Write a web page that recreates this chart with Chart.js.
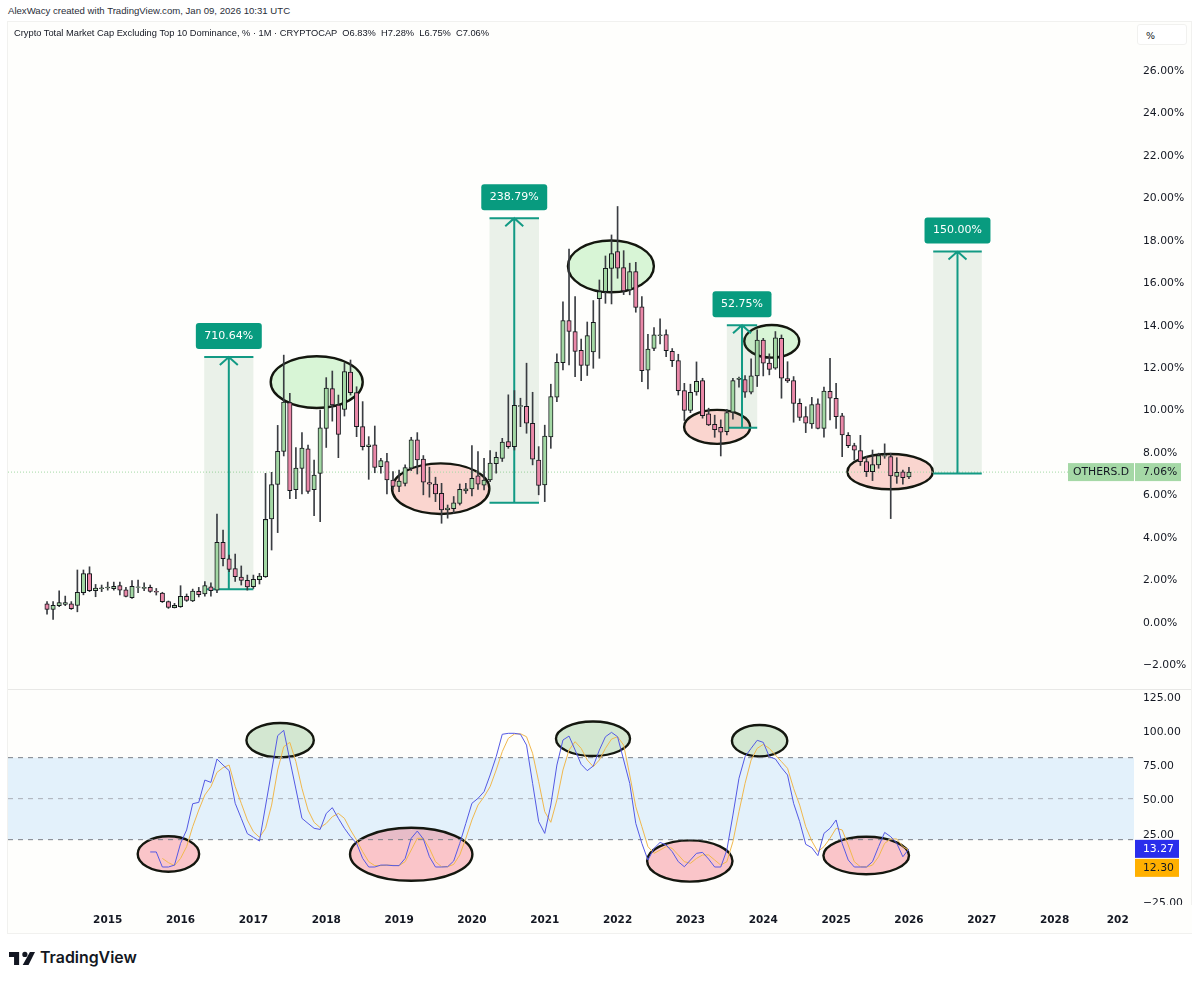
<!DOCTYPE html>
<html>
<head>
<meta charset="utf-8">
<title>OTHERS.D</title>
<script src="https://cdn.jsdelivr.net/npm/chart.js@4/dist/chart.umd.min.js"></script>
<style>
  html, body { margin: 0; padding: 0; background: #fff; }
  body { position: relative; width: 1200px; height: 982px; overflow: hidden; font-family: "DejaVu Sans", sans-serif; color: #131722; }
  #panel { position: absolute; left: 8px; top: 22px; width: 1183px; height: 911px; background: #fefefc; outline: 1px solid #f1f1ef; }
  canvas { position: absolute; left: 8px; }
  #priceChart { top: 22px; }
  #stochChart { top: 690px; }
  #sep { position: absolute; left: 8px; top: 689px; width: 1183px; height: 1px; background: #e8e8e6; }
  .txt { position: absolute; white-space: pre; }
  #credit { left: 8px; top: 5px; font-family: "Liberation Sans", sans-serif; font-size: 9.6px; line-height: 12px; color: #2a2e39; }
  #title { left: 14px; top: 27px; font-family: "Liberation Sans", sans-serif; font-size: 9.3px; line-height: 12px; color: #131722; }
  #unit { left: 1137px; top: 24px; width: 50px; height: 21px; line-height: 21px; text-indent: 8px; font-size: 9.5px; background: #fff; border: 1px solid #f1f1ef; border-radius: 3px; box-sizing: border-box; }
  #brand { left: 40px; top: 947px; font-family: Inter, sans-serif; font-weight: 600; font-size: 15.9px; line-height: 22px; color: #131722; }
  #logo { position: absolute; left: 9px; top: 951px; }
</style>
</head>
<body>
<div id="panel"></div>
<canvas id="priceChart" width="1184" height="667"></canvas>
<div id="sep"></div>
<canvas id="stochChart" width="1184" height="243"></canvas>
<div class="txt" id="credit">AlexWacy created with TradingView.com, Jan 09, 2026 10:31 UTC</div>
<div class="txt" id="title">Crypto Total Market Cap Excluding Top 10 Dominance, % · 1M · CRYPTOCAP  O6.83%  H7.28%  L6.75%  C7.06%</div>
<div class="txt" id="unit">%</div>
<svg id="logo" width="26" height="15" viewBox="0 0 36 20"><path fill="#131722" d="M0 1h14v18H7V8H0zM29 1h7l-9 18h-8zM22 8a3.6 3.6 0 1 0 0-7.2A3.6 3.6 0 0 0 22 8z"/></svg>
<div class="txt" id="brand">TradingView</div>

<script>
// monthly candles, index 0 = Mar 2014, last = Jan 2026
const opens = [.85,.59,.77,.83,.85,.78,1.38,2.28,1.47,1.57,
  1.60,1.57,1.71,1.52,1.14,1.63,1.58,1.63,1.44,1.36,
  .96,.67,.72,1.21,.99,1.44,1.32,1.66,1.50,3.75,
  2.98,2.51,2.12,1.96,1.66,1.99,2.13,4.86,6.48,8.04,
  10.33,6.23,7.23,8.16,6.23,7.00,9.12,10.99,10.22,10.01,
  11.77,10.80,9.20,8.26,8.35,7.32,7.56,6.68,6.38,6.53,
  7.24,8.58,7.67,6.57,6.50,6.06,5.28,5.34,5.58,6.17,
  6.27,6.88,6.44,6.69,7.46,7.71,8.50,8.26,10.15,10.16,
  9.36,7.63,6.46,8.72,10.59,12.22,14.20,13.68,12.80,12.09,
  12.72,15.23,15.56,16.65,17.45,16.69,15.64,16.50,14.84,11.86,
  12.89,13.49,13.54,12.75,12.31,10.90,9.96,10.84,11.37,9.80,
  9.31,9.17,8.97,9.88,11.43,11.42,10.82,11.59,13.28,12.19,
  11.95,13.36,11.46,11.37,10.30,9.67,9.33,10.27,9.12,10.87,
  10.54,9.71,8.79,8.31,8.07,7.55,7.08,7.40,7.81,7.79,
  6.86,7.07,6.83];
const highs = [.96,.96,1.47,1.22,.96,2.45,2.45,2.60,1.77,1.74,
  1.88,1.88,1.88,1.63,1.95,1.98,1.85,1.74,1.58,1.40,
  .99,.88,1.71,1.32,1.55,1.63,1.90,1.85,5.08,4.33,
  3.15,3.20,2.64,2.21,2.21,2.29,7.00,7.05,9.26,12.57,
  10.77,8.21,8.92,8.33,7.63,9.98,11.51,11.82,10.69,12.18,
  12.34,11.08,10.38,8.73,9.23,7.71,7.95,7.08,7.16,7.40,
  8.70,8.92,7.84,7.29,6.82,6.53,5.51,5.91,6.50,6.53,
  8.31,8.03,7.71,8.07,8.00,8.65,10.70,10.90,10.54,12.19,
  10.82,8.26,9.27,11.20,12.63,15.08,17.56,15.33,13.32,14.13,
  15.14,16.11,17.24,18.23,19.57,17.49,16.90,16.94,15.33,13.55,
  13.87,14.28,13.76,12.88,12.61,11.24,11.20,12.25,11.48,10.07,
  9.74,9.52,10.02,11.48,11.53,11.61,12.39,13.76,13.36,12.63,
  13.68,13.52,12.26,11.56,10.51,10.14,10.58,10.51,11.06,12.42,
  11.24,9.83,8.92,8.42,8.79,7.79,8.10,7.95,8.39,7.95,
  7.74,7.16,7.28];
const lows = [.37,.12,.72,.77,.59,.48,1.28,1.43,1.19,1.43,
  1.50,1.50,1.27,1.18,1.11,1.38,1.47,1.40,1.27,.92,
  .64,.66,.69,.97,.96,1.18,1.22,1.22,1.38,2.64,
  2.37,1.91,1.74,1.50,1.58,1.79,2.10,3.39,4.21,7.82,
  5.81,5.81,6.03,6.06,5.01,4.72,8.22,9.46,7.74,9.70,
  10.69,8.73,8.10,6.72,7.03,7.01,6.03,6.25,6.14,6.41,
  7.13,6.97,5.99,5.88,5.67,4.65,4.89,5.12,5.51,6.06,
  5.94,6.25,6.22,6.61,7.01,7.56,8.18,8.10,9.20,8.89,
  7.40,5.99,5.67,8.18,10.38,11.87,12.11,11.56,11.37,11.61,
  11.95,12.42,15.01,14.98,16.19,15.42,15.41,14.59,11.32,10.98,
  12.78,13.10,12.50,12.03,10.69,9.49,9.86,10.68,9.60,9.25,
  8.70,7.82,8.81,9.55,11.06,10.58,10.74,11.09,11.59,11.64,
  11.90,10.54,11.28,9.41,9.49,8.92,9.12,9.09,8.70,9.52,
  9.12,7.79,8.21,7.63,7.37,6.85,6.66,7.24,7.71,4.87,
  6.53,6.49,6.75];
const closes = [.59,.78,.92,.92,.63,1.40,2.28,1.47,1.60,1.61,
  1.65,1.68,1.50,1.21,1.68,1.66,1.63,1.44,1.40,.96,
  .69,.78,1.21,1.02,1.46,1.29,1.71,1.47,3.75,2.98,
  2.48,2.13,1.96,1.65,2.01,2.16,4.83,6.47,8.04,10.36,
  6.18,7.25,8.19,6.15,6.92,9.14,11.02,10.22,8.84,11.80,
  10.80,9.20,8.26,8.35,7.28,7.60,6.69,6.39,6.64,7.27,
  8.58,7.63,6.58,6.49,6.03,5.28,5.37,5.61,6.25,6.27,
  6.77,6.49,6.69,7.48,7.76,8.47,8.26,10.21,10.19,9.36,
  7.67,6.43,8.76,10.62,12.23,14.20,13.69,12.75,12.09,13.49,
  14.12,15.56,16.66,17.35,16.66,15.59,16.50,14.82,11.84,12.86,
  13.52,13.52,12.78,12.31,10.90,9.97,10.82,11.34,9.72,9.28,
  9.06,8.94,9.86,11.37,11.48,10.82,11.59,13.28,12.19,11.90,
  13.39,11.48,11.35,10.30,9.63,9.36,10.24,9.12,10.88,10.54,
  9.67,8.81,8.31,8.09,7.55,7.08,7.41,7.84,7.84,6.88,
  7.05,6.80,7.06];

// stoch rsi, %K starts at candle 17, %D at candle 19
const stochK = [11.0,11.0,0,0,1.4,17.3,27.1,46.3,47.3,63.6,61.9,79.0,74.6,70.5,46.6,35.6,24.4,21.7,19.0,44.6,
  70.2,96.1,100,78.3,57.1,35.6,31.9,28.3,27.5,39.2,43.4,35.6,28.3,22.2,17.3,6.3,0,0,1.4,1.4,
  1.0,1.0,6.3,21.0,26.3,20.5,7.5,0,0,0.2,4.4,17.3,31.9,46.6,50.2,55.1,67.3,80.7,97.1,97.8,
  97.8,97.1,89.2,61.2,33.2,24.6,45.3,74.6,92.9,95.8,85.6,75.1,70.5,73.9,85.6,95.3,98.5,95.3,78.3,61.2,
  31.9,17.3,5.1,13.6,18.0,16.1,11.2,3.9,0.2,5.1,10.0,10.7,5.8,0,0,12.4,38.0,64.9,80.7,86.8,
  92.7,91.2,80.7,79.0,72.7,67.3,46.6,33.2,16.6,14.1,8.3,24.6,28.3,34.4,17.3,5.1,0,0,0,3.9,
  14.9,25.3,22.2,17.3,7.5,13.27];
const stochD = [6.3,3.2,1.0,6.3,14.9,29.5,41.7,52.7,58.8,69.2,72.7,74.6,58.8,46.6,34.4,25.8,21.7,28.3,45.3,71.0,
  88.0,91.2,77.1,57.5,41.7,32.7,28.8,31.9,36.8,39.2,35.6,27.1,19.7,11.2,3.9,1.0,1.0,1.4,1.2,1.0,
  3.9,12.4,21.0,21.0,13.6,3.9,0.2,0.2,1.9,8.8,21.0,34.4,45.3,51.4,58.8,71.0,84.4,94.1,97.3,97.5,
  95.3,83.2,62.4,40.5,32.7,49.0,71.0,85.6,91.7,86.8,78.3,73.4,78.3,86.8,93.6,95.3,89.2,67.3,44.1,29.5,
  14.9,10.0,12.4,14.9,13.6,8.8,3.9,2.7,6.3,8.8,8.8,5.1,1.4,3.9,18.5,40.5,61.2,78.3,86.8,89.7,
  86.8,81.9,77.1,72.2,57.5,45.3,29.5,19.0,11.2,14.9,21.0,28.3,27.1,16.1,3.9,0.2,0,1.4,7.5,17.3,
  20.5,20.5,14.9,12.30];
const stochKStart = 17;
const stochDStart = 19;

const priceTicks = [26,24,22,20,18,16,14,12,10,8,6,4,2,0,-2];
const stochTicks = [125,100,75,50,25,-25];
const yearLabels = ["2015","2016","2017","2018","2019","2020","2021","2022","2023","2024","2025","2026","2027","2028","202"];
const yearPositions = [10,22,34,46,58,70,82,94,106,118,130,142,154,166,176.4];

const lastPrice = 7.06;

// drawn on the chart in month / value units: centre x, centre y, radius x, radius y
const priceCircles = [
  { kind: "green", at: [44.43, 11.30, 7.58, 1.22] },
  { kind: "pink", at: [64.86, 6.28, 8.02, 1.19] },
  { kind: "green", at: [92.90, 16.75, 7.08, 1.22] },
  { kind: "pink", at: [110.40, 9.19, 5.44, 0.80] },
  { kind: "green", at: [119.40, 13.22, 4.53, 0.77] },
  { kind: "pink", at: [138.90, 7.08, 7.03, 0.83] }
];
const stochCircles = [
  { kind: "pink", at: [20.0, 9.5, 5.06, 13.0] },
  { kind: "green", at: [38.4, 92.8, 5.55, 12.6] },
  { kind: "pink", at: [60.0, 9.3, 10.08, 19.4] },
  { kind: "green", at: [89.95, 93.8, 6.1, 12.6] },
  { kind: "pink", at: [105.9, 4.4, 7.03, 15.1] },
  { kind: "green", at: [117.4, 92.4, 4.56, 11.5] },
  { kind: "pink", at: [134.96, 8.4, 7.05, 13.7] }
];
const moves = [
  { from: 25.9, to: 34.0, base: 1.54, top: 12.48, label: "710.64%" },
  { from: 72.9, to: 81.05, base: 5.62, top: 19.02, label: "238.79%" },
  { from: 112, to: 117, base: 9.15, top: 13.98, label: "52.75%" },
  { from: 146, to: 154, base: 7.0, top: 17.45, label: "150.00%" }
];

const FONT = '"DejaVu Sans", sans-serif';
const TEAL = "#129a84";
const circleFill = {
  price: { green: "rgba(110,220,105,0.26)", pink: "rgba(240,90,70,0.25)" },
  stoch: { green: "rgba(60,150,60,0.22)", pink: "rgba(240,50,70,0.28)" }
};

const months = opens.map((v, i) => i);
const isUp = i => closes[i] >= opens[i];

function drawCircles(chart, list, fills) {
  const { ctx, scales: { x, y } } = chart;
  list.forEach(c => {
    const [cx, cy, rx, ry] = c.at;
    const px = x.getPixelForValue(cx);
    const py = y.getPixelForValue(cy);
    ctx.beginPath();
    ctx.ellipse(px, py, x.getPixelForValue(cx + rx) - px, py - y.getPixelForValue(cy + ry), 0, 0, Math.PI * 2);
    ctx.fillStyle = fills[c.kind];
    ctx.fill();
    ctx.lineWidth = 2.4;
    ctx.strokeStyle = "#14170f";
    ctx.stroke();
  });
}

const priceOverlay = {
  id: "priceOverlay",
  beforeDatasetsDraw(chart) {
    const { ctx, chartArea, scales: { x, y } } = chart;
    ctx.save();
    drawCircles(chart, priceCircles, circleFill.price);

    // last price dotted line
    const yLast = y.getPixelForValue(lastPrice);
    ctx.beginPath();
    ctx.setLineDash([1, 2]);
    ctx.moveTo(chartArea.left, yLast);
    ctx.lineTo(chartArea.right, yLast);
    ctx.lineWidth = 1;
    ctx.strokeStyle = "#a3d9a5";
    ctx.stroke();
    ctx.setLineDash([]);

    moves.forEach(m => {
      const x0 = x.getPixelForValue(m.from);
      const x1 = x.getPixelForValue(m.to);
      const xm = (x0 + x1) / 2;
      const yb = y.getPixelForValue(m.base);
      const yt = y.getPixelForValue(m.top);
      ctx.fillStyle = "rgba(60,130,70,0.1)";
      ctx.fillRect(x0, yt, x1 - x0, yb - yt);
      ctx.strokeStyle = TEAL;
      ctx.lineWidth = 2;
      ctx.beginPath();
      ctx.moveTo(x0, yt); ctx.lineTo(x1, yt);
      ctx.moveTo(x0, yb); ctx.lineTo(x1, yb);
      ctx.moveTo(xm, yb); ctx.lineTo(xm, yt);
      ctx.moveTo(xm - 9, yt + 8); ctx.lineTo(xm, yt); ctx.lineTo(xm + 9, yt + 8);
      ctx.stroke();

      ctx.font = "11px " + FONT;
      const w = ctx.measureText(m.label).width + 17;
      ctx.fillStyle = "#089b7f";
      ctx.beginPath();
      ctx.roundRect(xm - w / 2, yt - 34, w, 26, 3);
      ctx.fill();
      ctx.fillStyle = "#fff";
      ctx.textAlign = "center";
      ctx.textBaseline = "middle";
      ctx.fillText(m.label, xm, yt - 21);
    });
    ctx.restore();
  },
  afterDraw(chart) {
    const { ctx, chartArea, scales: { y } } = chart;
    const yLast = y.getPixelForValue(lastPrice);
    ctx.save();
    ctx.fillStyle = "#a5d8a6";
    ctx.fillRect(chartArea.right - 66, yLast - 9, 66, 18);
    ctx.fillRect(chartArea.right + 1, yLast - 9, 46, 18);
    ctx.fillStyle = "#131722";
    ctx.font = "10.8px " + FONT;
    ctx.textBaseline = "middle";
    ctx.textAlign = "center";
    ctx.fillText("OTHERS.D", chartArea.right - 33, yLast);
    ctx.textAlign = "left";
    ctx.fillText(lastPrice.toFixed(2) + "%", chartArea.right + 9, yLast);
    ctx.restore();
  }
};

const stochOverlay = {
  id: "stochOverlay",
  beforeDatasetsDraw(chart) {
    const { ctx, chartArea, scales: { y } } = chart;
    ctx.save();
    const y80 = y.getPixelForValue(80);
    const y20 = y.getPixelForValue(20);
    ctx.fillStyle = "#e3f1fb";
    ctx.fillRect(chartArea.left, y80, chartArea.width, y20 - y80);
    drawCircles(chart, stochCircles, circleFill.stoch);
    [[80, "#7c8089"], [50, "#a9aeb6"], [20, "#7c8089"]].forEach(([v, colour]) => {
      const py = y.getPixelForValue(v);
      ctx.beginPath();
      ctx.setLineDash([5, 5]);
      ctx.moveTo(chartArea.left, py);
      ctx.lineTo(chartArea.right, py);
      ctx.lineWidth = 1;
      ctx.strokeStyle = colour;
      ctx.stroke();
    });
    ctx.restore();
  },
  afterDatasetsDraw(chart) {
    // the lowest axis label is cut by the time axis strip
    const { ctx, chartArea, width, height } = chart;
    ctx.save();
    ctx.fillStyle = "#fefefc";
    ctx.fillRect(0, chartArea.bottom, width, height - chartArea.bottom);
    ctx.restore();
  },
  afterDraw(chart) {
    const { ctx, chartArea, scales: { y } } = chart;
    const lastK = stochK[stochK.length - 1];
    const lastD = stochD[stochD.length - 1];
    const yK = y.getPixelForValue(lastK);
    ctx.save();
    ctx.font = "10.8px " + FONT;
    ctx.textAlign = "left";
    ctx.textBaseline = "middle";
    ctx.fillStyle = "#2a2eec";
    ctx.fillRect(chartArea.right + 1, yK - 9, 44, 18);
    ctx.fillStyle = "#fff";
    ctx.fillText(lastK.toFixed(2), chartArea.right + 9, yK);
    ctx.fillStyle = "#ffb000";
    ctx.fillRect(chartArea.right + 1, yK + 10, 44, 18);
    ctx.fillStyle = "#131722";
    ctx.fillText(lastD.toFixed(2), chartArea.right + 9, yK + 19);
    ctx.restore();
  }
};

// no label padding, the plot has to fill the canvas
function fitAxis(scale, size) {
  if (scale.isHorizontal()) scale.height = size;
  else scale.width = size;
  scale.paddingTop = scale.paddingBottom = scale.paddingLeft = scale.paddingRight = 0;
}

const xLimits = { type: "linear", offset: false, min: -6.43, max: 179.08, bounds: "data", grid: { display: false }, border: { display: false } };

const priceChart = new Chart(document.getElementById("priceChart"), {
  type: "bar",
  data: {
    datasets: [
      {
        label: "body",
        data: months.map(i => ({ x: i, y: [opens[i], closes[i]] })),
        backgroundColor: months.map(i => isUp(i) ? "#a3d8a4" : "#ea88a8"),
        borderColor: "#15181c",
        borderWidth: 1,
        borderSkipped: false,
        barThickness: 4.4,
        grouped: false
      },
      {
        label: "wick",
        data: months.map(i => ({ x: i, y: [lows[i], highs[i]] })),
        backgroundColor: "#3a3d42",
        borderWidth: 0,
        barThickness: 1,
        grouped: false
      }
    ]
  },
  options: {
    responsive: false,
    animation: false,
    layout: { padding: 0 },
    plugins: { legend: { display: false }, tooltip: { enabled: false } },
    scales: {
      x: { ...xLimits, display: false },
      y: {
        position: "right",
        min: -3.156,
        max: 28.26,
        bounds: "data",
        grid: { display: false },
        border: { display: false },
        afterFit: scale => fitAxis(scale, 58),
        afterBuildTicks: scale => { scale.ticks = priceTicks.map(value => ({ value })); },
        ticks: {
          padding: 1,
          labelOffset: 1,
          crossAlign: "near",
          color: "#131722",
          font: { family: FONT, size: 10.8 },
          callback: value => value.toFixed(2).replace("-", "\u2212") + "%"
        }
      }
    }
  },
  plugins: [priceOverlay]
});

const stochChart = new Chart(document.getElementById("stochChart"), {
  type: "line",
  data: {
    datasets: [
      {
        label: "%K",
        data: stochK.map((v, i) => ({ x: i + stochKStart, y: v })),
        borderColor: "#5459e4",
        borderWidth: 1,
        pointRadius: 0,
        tension: 0
      },
      {
        label: "%D",
        data: stochD.map((v, i) => ({ x: i + stochDStart, y: v })),
        borderColor: "#f0b84e",
        borderWidth: 1,
        pointRadius: 0,
        tension: 0
      }
    ]
  },
  options: {
    responsive: false,
    animation: false,
    layout: { padding: 0 },
    plugins: { legend: { display: false }, tooltip: { enabled: false } },
    scales: {
      x: {
        ...xLimits,
        afterFit: scale => fitAxis(scale, 28),
        afterBuildTicks: scale => { scale.ticks = yearPositions.map(value => ({ value })); },
        ticks: {
          z: 1,
          padding: 1,
          autoSkip: false,
          maxRotation: 0,
          color: "#131722",
          font: { family: FONT, size: 10.5, weight: "bold" },
          callback: value => yearLabels[yearPositions.indexOf(value)]
        }
      },
      y: {
        position: "right",
        min: -27.8,
        max: 129.5,
        bounds: "data",
        grid: { display: false },
        border: { display: false },
        afterFit: scale => fitAxis(scale, 58),
        afterBuildTicks: scale => { scale.ticks = stochTicks.map(value => ({ value })); },
        ticks: {
          padding: 1,
          labelOffset: 2,
          crossAlign: "near",
          color: "#131722",
          font: { family: FONT, size: 10.8 },
          callback: value => value.toFixed(2).replace("-", "\u2212")
        }
      }
    }
  },
  plugins: [stochOverlay]
});
</script>
</body>
</html>
